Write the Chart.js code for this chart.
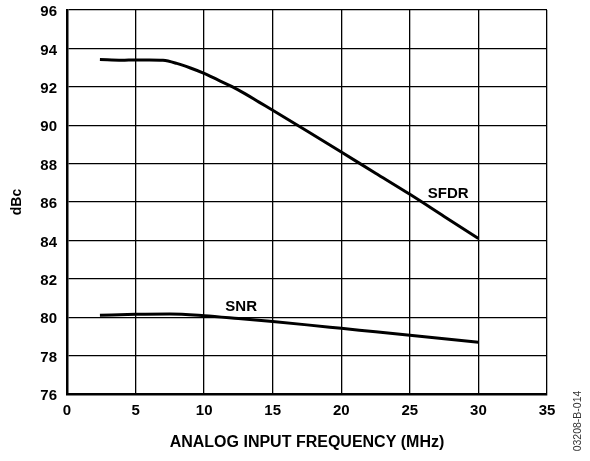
<!DOCTYPE html>
<html>
<head>
<meta charset="utf-8">
<script src="https://cdn.jsdelivr.net/npm/chart.js@4"></script>
<style>
  html, body { margin: 0; padding: 0; background: #fff; }
  #wrap { width: 590px; height: 461px; }
</style>
</head>
<body>
<div id="wrap"><canvas id="chart" width="590" height="461"></canvas></div>
<script>
// values
const sfdrFreq = [2.4, 4, 5, 6, 7, 8, 9, 10, 11, 12, 13, 14, 15, 17.5, 20, 22.5, 25, 27.5, 30];
const sfdrVals = [93.42, 93.38, 93.4, 93.4, 93.38, 93.22, 92.98, 92.7, 92.36, 92.02, 91.63, 91.2, 90.78, 89.7, 88.6, 87.5, 86.4, 85.25, 84.1];

const snrFreq = [2.4, 5, 7.5, 10, 12.5, 15, 17.5, 20, 22.5, 25, 27.5, 30];
const snrVals = [80.1, 80.15, 80.17, 80.08, 79.93, 79.77, 79.6, 79.42, 79.24, 79.06, 78.88, 78.7];

const xTicks = [0, 5, 10, 15, 20, 25, 30, 35];
const yTicks = [76, 78, 80, 82, 84, 86, 88, 90, 92, 94, 96];

const seriesNames = ['SFDR', 'SNR'];
const nameSpots = [[27.8, 86.4], [12.7, 80.55]];   // where the curve names sit, in data units

const FONT = 'Liberation Sans, Arial, sans-serif';

const toPoints = (xs, ys) => xs.map((x, i) => ({ x, y: ys[i] }));

const curveNames = {
    id: 'curveNames',
    afterDatasetsDraw(chart) {
        const { ctx, scales } = chart;
        ctx.save();
        ctx.fillStyle = '#000';
        ctx.font = 'bold 15px ' + FONT;
        ctx.textAlign = 'center';
        ctx.textBaseline = 'middle';
        seriesNames.forEach((name, i) => {
            const [x, y] = nameSpots[i];
            ctx.fillText(name, scales.x.getPixelForValue(x), scales.y.getPixelForValue(y));
        });
        ctx.restore();
    },
    afterDraw(chart) {
        const ctx = chart.ctx;
        ctx.save();
        ctx.translate(578, 421);
        ctx.rotate(-Math.PI / 2);
        ctx.fillStyle = '#333';
        ctx.font = '10.5px ' + FONT;
        ctx.textAlign = 'center';
        ctx.textBaseline = 'middle';
        ctx.fillText('03208-B-014', 0, 0);
        ctx.restore();
    }
};

new Chart(document.getElementById('chart'), {
    type: 'line',
    data: {
        datasets: [
            { label: 'SFDR', data: toPoints(sfdrFreq, sfdrVals) },
            { label: 'SNR',  data: toPoints(snrFreq, snrVals) }
        ]
    },
    options: {
        responsive: false,
        animation: false,
        layout: { padding: { top: 10, right: 43, left: 0, bottom: 0 } },
        elements: {
            point: { radius: 0 },
            line: { borderColor: '#000', borderWidth: 3, cubicInterpolationMode: 'monotone', fill: false }
        },
        plugins: { legend: { display: false }, tooltip: { enabled: false } },
        scales: {
            x: {
                type: 'linear',
                min: 0, max: 35,
                afterBuildTicks: s => { s.ticks = xTicks.map(v => ({ value: v })); },
                afterFit: s => { s.height = 67; s.paddingLeft = 0; s.paddingRight = 0; },
                grid: { color: '#000', lineWidth: 1.3, drawTicks: false },
                border: { color: '#000', width: 2.5 },
                ticks: { color: '#000', padding: 8, maxRotation: 0, font: { family: FONT, size: 15, weight: 'bold' } },
                title: {
                    display: true, text: 'ANALOG INPUT FREQUENCY (MHz)', color: '#000',
                    padding: { top: 9, bottom: 9 },
                    font: { family: FONT, size: 16, weight: 'bold' }
                }
            },
            y: {
                min: 76, max: 96,
                afterBuildTicks: s => { s.ticks = yTicks.map(v => ({ value: v })); },
                afterFit: s => { s.width = 67; s.paddingTop = 0; s.paddingBottom = 0; },
                grid: { color: '#000', lineWidth: 1.3, drawTicks: false },
                border: { color: '#000', width: 2.5 },
                ticks: { color: '#000', padding: 10, labelOffset: 2, font: { family: FONT, size: 15, weight: 'bold' } },
                title: {
                    display: true, text: 'dBc', color: '#000',
                    padding: { top: 9, bottom: 9 },
                    font: { family: FONT, size: 14, weight: 'bold' }
                }
            }
        }
    },
    plugins: [curveNames]
});
</script>
</body>
</html>
